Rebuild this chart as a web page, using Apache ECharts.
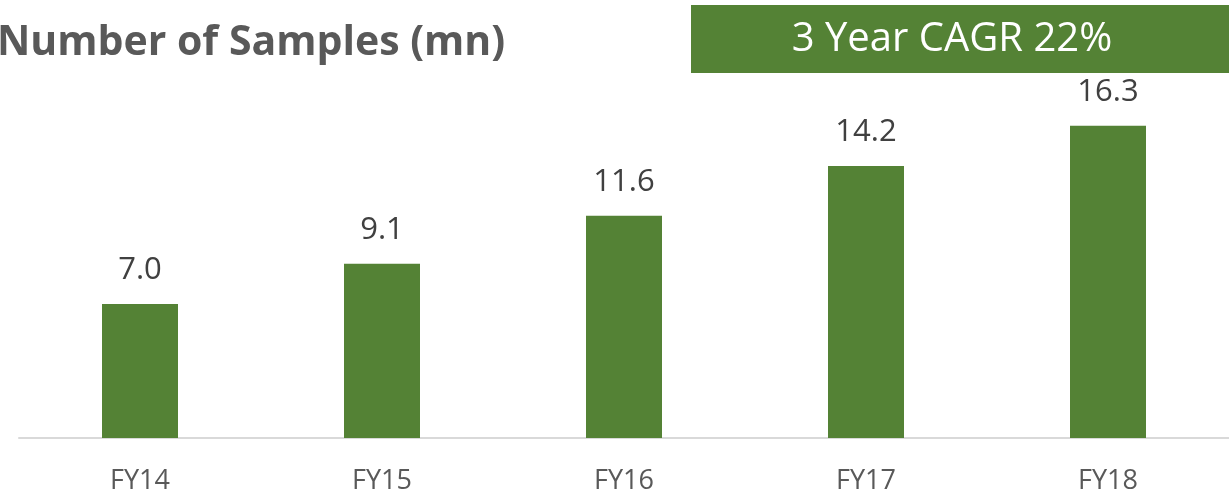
<!DOCTYPE html>
<html>
<head>
<meta charset="utf-8">
<script src="https://cdn.jsdelivr.net/npm/echarts@6/dist/echarts.min.js"></script>
<style>
  html, body { margin: 0; padding: 0; background: #fff; }
  #chart { width: 1229px; height: 497px; }
</style>
</head>
<body>
<div id="chart"></div>
<script>
const categories = ["FY14", "FY15", "FY16", "FY17", "FY18"];
const samples = [7.0, 9.1, 11.6, 14.2, 16.3];
const titleText = "Number of Samples (mn)";
const cagrText = "3 Year CAGR 22%";

const green = "#548235";
const chart = echarts.init(document.getElementById("chart"));

const option = {
  animation: false,
  grid: { left: 19, right: 0, top: 55, bottom: 59, containLabel: false },
  title: {
    text: titleText,
    left: -8,
    top: 18,
    textStyle: { fontFamily: "Open Sans", fontWeight: "bold", fontSize: 41, color: "#595959" }
  },
  graphic: [
    {
      type: "rect",
      left: 691,
      top: 5,
      shape: { width: 538, height: 68 },
      style: { fill: green }
    },
    {
      type: "text",
      x: 952,
      y: 40,
      style: {
        text: cagrText,
        fill: "#fff",
        font: "40px 'Open Sans'",
        textAlign: "center",
        textVerticalAlign: "middle"
      }
    }
  ],
  xAxis: {
    type: "category",
    data: categories,
    axisLine: { lineStyle: { color: "#d9d9d9", width: 2 } },
    axisTick: { show: false },
    axisLabel: { color: "#595959", fontSize: 27, fontFamily: "Open Sans", margin: 30 }
  },
  yAxis: {
    type: "value",
    min: 0,
    max: 20,
    show: false
  },
  series: [
    {
      type: "bar",
      data: samples,
      barWidth: 76,
      itemStyle: { color: green },
      label: {
        show: true,
        position: "top",
        distance: 18,
        color: "#404040",
        fontSize: 31,
        fontFamily: "Open Sans",
        formatter: (p) => p.value.toFixed(1)
      }
    }
  ]
};

chart.setOption(option);
window.onresize = function () {
  chart.resize();
};
</script>
</body>
</html>
